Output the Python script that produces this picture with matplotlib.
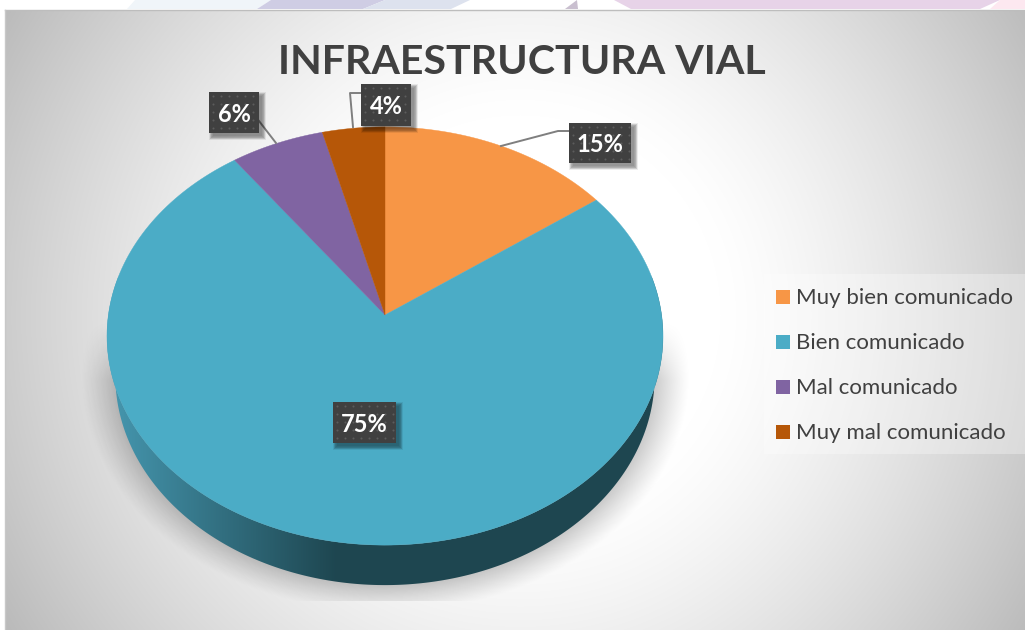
import numpy as np
import matplotlib
matplotlib.use("Agg")
import matplotlib.pyplot as plt
from matplotlib.patches import Polygon, Rectangle

# ---- data ----
categories = ["Muy bien comunicado", "Bien comunicado", "Mal comunicado", "Muy mal comunicado"]
values = [15, 75, 6, 4]
colors = ["#F79646", "#4BACC6", "#8064A2", "#B65708"]
title = "INFRAESTRUCTURA VIAL"

# ---- layout (pixels) ----
W, H = 1025, 630
CX, CY = 385.0, 315.0
A, B, K = 207.0, 276.6, 0.1004
DEPTH = 40.0
plt.rcParams['font.family'] = ['Lato', 'DejaVu Sans']

fig = plt.figure(figsize=(W / 100, H / 100), dpi=100)
ax = fig.add_axes([0, 0, 1, 1])
ax.set_axis_off()


def project(theta, r=1.0, dy=0.0, sx=1.0):
    X, Y = r * np.sin(theta), r * np.cos(theta)
    d = 1 + K * Y
    return CX + sx * B * X / d, CY - A * Y / d + dy


# background
yy, xx = np.mgrid[0:H, 0:W]
d = np.hypot(xx - 520, yy - 315)
v = (255 - 63 * (np.clip(d - 200, 0, None) / 375) ** 1.3) / 255
ax.imshow(np.dstack([v, v, v]), extent=(0, W, H, 0), aspect='auto', zorder=0)
ax.add_patch(Rectangle((0, 0), W, 9.5, fc='white', ec='none', zorder=1))
ax.add_patch(Rectangle((0, 0), 4.5, H, fc='white', ec='none', zorder=1))
ax.plot([4.5, W], [9.5, 9.5], color='#BDBDBD', lw=1, zorder=1.1)
ax.plot([4.5, 4.5], [9.5, H], color='#C8C8C8', lw=1, zorder=1.1)
for pts, c in [([(135, 0), (271, 0), (257, 9), (127, 9)], '#F0F5F9'),
               ([(271, 0), (385, 0), (363, 9), (257, 9)], '#CFCDE4'),
               ([(385, 0), (470, 0), (451, 9), (363, 9)], '#DDE2EE'),
               ([(577, 0), (578, 9), (565, 9)], '#C9BFCF'),
               ([(614, 0), (1000, 0), (980, 9), (631, 9)], '#E7D3E8'),
               ([(1000, 0), (1025, 0), (1025, 9), (990, 9)], '#FDE8F0')]:
    ax.add_patch(Polygon(pts, fc=c, ec='none', zorder=1.05))

# shadow below the pie
ty = np.linspace(0, 2 * np.pi, 721)
bx, by = project(ty, dy=DEPTH, sx=0.97)
ex, ey = (bx.max() - bx.min()) / 2, (by.max() - by.min()) / 2
mx, my = (bx.max() + bx.min()) / 2, (by.max() + by.min()) / 2
rho = np.hypot((xx - mx) / ex, (yy - my) / ey)
sh = np.clip(1 - (rho - 0.98) / 0.15, 0, 1) ** 1.2 * 0.24
sh = np.where(yy > 600, 0, sh)
sh = sh * np.clip((yy - 320) / 60, 0, 1)
ax.imshow(np.dstack([np.zeros_like(sh)] * 3 + [sh]), extent=(0, W, H, 0), aspect='auto', zorder=2)

# side wall
left = ty[(ty >= np.pi / 2 - 0.2) & (ty <= 3 * np.pi / 2 + 0.2)]
x1, y1 = project(left)
x2, y2 = project(left[::-1], dy=DEPTH, sx=0.97)
wall = Polygon(np.column_stack([np.r_[x1, x2], np.r_[y1, y2]]), closed=True, fc='none', ec='none', zorder=3)
ax.add_patch(wall)
c0 = np.array([0x45, 0x96, 0xAE]) / 255
c1 = np.array([0x1E, 0x46, 0x50]) / 255
t = np.clip((np.linspace(0, W, W) - 112) / 225, 0, 1)[None, :, None]
grad = c0 * (1 - t) + c1 * t
im = ax.imshow(grad, extent=(0, W, H, 0), aspect='auto', zorder=3)
im.set_clip_path(wall)

# top face
fractions = np.cumsum([0] + values) / sum(values)
for i, (val, col) in enumerate(zip(values, colors)):
    th = np.linspace(fractions[i], fractions[i + 1], 200) * 2 * np.pi
    px, py = project(th)
    ax.add_patch(Polygon(np.column_stack([np.r_[CX, px], np.r_[CY, py]]), closed=True,
                         fc=col, ec=col, lw=0.3, zorder=4))

# leader lines
for line in [[(501, 146), (558, 131), (569, 131)],
             [(259, 121), (276, 143)],
             [(361, 93), (350, 93), (353, 127)]]:
    lx, ly = zip(*line)
    ax.plot(lx, ly, color='#7F7F7F', lw=1.4, zorder=5)

# data labels
boxes = [(569, 123, 62, 40), (333, 402, 63, 41), (209, 92, 50, 41), (361, 84, 50, 42)]
for val, (x, y, w, h) in zip(values, boxes):
    for g in range(7):
        ax.add_patch(Rectangle((x + g * 0.6, y + g * 0.6), w + 7 - g * 1.2, h + 7 - g * 1.2, fc='black', ec='none',
                               alpha=0.07, zorder=6))
    ax.add_patch(Rectangle((x, y), w, h, fc='#404040', ec='none', zorder=6.5))
    gx, gy = np.meshgrid(np.arange(x + 4, x + w, 8), np.arange(y + 4, y + h, 8))
    ax.scatter(gx.ravel(), gy.ravel(), s=2.2, c='#5C5C5C', linewidths=0, zorder=6.6)
    ax.text(x + w / 2, y + h / 2 + 2, f"{val}%", color='white', fontsize=17, fontweight='bold',
            ha='center', va='center', zorder=7)

# title
ax.text(522, 62, title, color='#404040', fontsize=29.6, fontweight='bold', ha='center', va='center', zorder=7)

# legend
ax.add_patch(Rectangle((764, 274), 261, 180, fc='white', ec='none', alpha=0.3, zorder=5))
for i, (name, col) in enumerate(zip(categories, colors)):
    yc = 297 + 45 * i
    ax.add_patch(Rectangle((776, yc - 7), 14, 14, fc=col, ec='none', zorder=6))
    ax.text(796, yc + 1, name, color='#404040', fontsize=16, ha='left', va='center', zorder=7)

ax.set_xlim(0, W)
ax.set_ylim(H, 0)
fig.savefig("out.png", dpi=100)
